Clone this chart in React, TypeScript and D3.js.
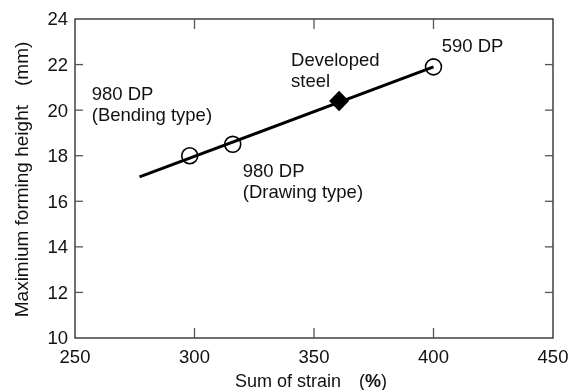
import { useEffect, useRef } from "react"
import * as d3 from "d3"

// measured points (sum of strain %, max forming height mm)
const steels = ["980 DP (Bending type)", "980 DP (Drawing type)", "Developed steel", "590 DP"]
const strainValues = [298, 316, 360.5, 400]
const heightValues = [18.0, 18.5, 20.4, 21.9]
const markerKinds = ["circle", "circle", "diamond", "circle"]

// regression line end points
const fitStrain = [277, 400]
const fitHeight = [17.07, 21.9]

const xTicks = [250, 300, 350, 400, 450]
const yTicks = [10, 12, 14, 16, 18, 20, 22, 24]

// label lines for each steel
const labelLines = [
  ["980 DP", "(Bending type)"],
  ["980 DP", "(Drawing type)"],
  ["Developed", "steel"],
  ["590 DP"],
]
// label anchor in data units (baseline of first line)
const labelStrain = [257, 320.2, 340.4, 403.4]
const labelHeight = [20.44, 17.05, 21.93, 22.54]

export default function App() {
  const svgRef = useRef<SVGSVGElement>(null)

  useEffect(() => {
    if (!svgRef.current) return
    const width = 572
    const height = 390
    const margin = { top: 19, right: 19, bottom: 52, left: 75 }

    d3.select(svgRef.current).selectAll("*").remove()
    const svg = d3
      .select(svgRef.current)
      .attr("width", width)
      .attr("height", height)
      .style("font-family", "Liberation Sans, Arial, sans-serif")

    const x = d3.scaleLinear().domain([250, 450]).range([margin.left, width - margin.right])
    const y = d3.scaleLinear().domain([10, 24]).range([height - margin.bottom, margin.top])

    const frameColor = "#222"
    const tickColor = "#555"

    // frame
    svg
      .append("rect")
      .attr("x", x(250))
      .attr("y", y(24))
      .attr("width", x(450) - x(250))
      .attr("height", y(10) - y(24))
      .attr("fill", "none")
      .attr("stroke", frameColor)
      .attr("stroke-width", 1.3)

    // inward ticks, all four sides
    const inner = xTicks.slice(1, -1)
    svg
      .append("g")
      .selectAll("line")
      .data(inner)
      .enter()
      .append("line")
      .attr("x1", (d) => x(d))
      .attr("x2", (d) => x(d))
      .attr("y1", y(10))
      .attr("y2", y(10) - 10)
      .attr("stroke", tickColor)
      .attr("stroke-width", 1.3)
    svg
      .append("g")
      .selectAll("line")
      .data(inner)
      .enter()
      .append("line")
      .attr("x1", (d) => x(d))
      .attr("x2", (d) => x(d))
      .attr("y1", y(24))
      .attr("y2", y(24) + 10)
      .attr("stroke", tickColor)
      .attr("stroke-width", 1.3)
    const innerY = yTicks.slice(1, -1)
    svg
      .append("g")
      .selectAll("line")
      .data(innerY)
      .enter()
      .append("line")
      .attr("x1", x(250))
      .attr("x2", x(250) + 8)
      .attr("y1", (d) => y(d))
      .attr("y2", (d) => y(d))
      .attr("stroke", tickColor)
      .attr("stroke-width", 1.3)
    svg
      .append("g")
      .selectAll("line")
      .data(innerY)
      .enter()
      .append("line")
      .attr("x1", x(450))
      .attr("x2", x(450) - 8)
      .attr("y1", (d) => y(d))
      .attr("y2", (d) => y(d))
      .attr("stroke", tickColor)
      .attr("stroke-width", 1.3)

    // tick labels
    svg
      .append("g")
      .selectAll("text")
      .data(xTicks)
      .enter()
      .append("text")
      .attr("x", (d) => x(d))
      .attr("y", y(10) + 25)
      .attr("text-anchor", "middle")
      .attr("font-size", 18.5)
      .attr("fill", "#111")
      .text((d) => d)
    svg
      .append("g")
      .selectAll("text")
      .data(yTicks)
      .enter()
      .append("text")
      .attr("x", x(250) - 7)
      .attr("y", (d) => y(d))
      .attr("dy", "0.35em")
      .attr("text-anchor", "end")
      .attr("font-size", 18.5)
      .attr("fill", "#111")
      .text((d) => d)

    // axis titles
    const xt = svg
      .append("text")
      .attr("x", 235)
      .attr("y", 387)
      .attr("font-size", 18)
      .attr("fill", "#111")
    xt.append("tspan").text("Sum of strain\u3000(")
    xt.append("tspan").attr("font-weight", "bold").text("%")
    xt.append("tspan").text(")")

    svg
      .append("text")
      .attr("transform", `translate(28,179.5) rotate(-90)`)
      .attr("text-anchor", "middle")
      .attr("font-size", 19)
      .attr("fill", "#111")
      .text("Maximium forming height\u3000(mm)")

    // fit line
    const line = d3
      .line<number>()
      .x((d) => x(fitStrain[d]))
      .y((d) => y(fitHeight[d]))
    svg
      .append("path")
      .attr("d", line([0, 1]))
      .attr("fill", "none")
      .attr("stroke", "#000")
      .attr("stroke-width", 3)

    // markers
    const idx = d3.range(steels.length)
    svg
      .append("g")
      .selectAll("path")
      .data(idx)
      .enter()
      .append("path")
      .attr("d", (i) =>
        markerKinds[i] === "circle"
          ? d3.symbol(d3.symbolCircle, 200)()
          : d3.symbol(d3.symbolDiamond, 120)(),
      )
      .attr("transform", (i) =>
        markerKinds[i] === "circle"
          ? `translate(${x(strainValues[i])},${y(heightValues[i])})`
          : `translate(${x(strainValues[i])},${y(heightValues[i])}) scale(1.7,1)`,
      )
      .attr("fill", (i) => (markerKinds[i] === "circle" ? "none" : "#000"))
      .attr("stroke", "#000")
      .attr("stroke-width", (i) => (markerKinds[i] === "circle" ? 1.6 : 0))

    // labels
    const labels = svg
      .append("g")
      .selectAll("text")
      .data(idx)
      .enter()
      .append("text")
      .attr("x", (i) => x(labelStrain[i]))
      .attr("y", (i) => y(labelHeight[i]))
      .attr("font-size", 18.5)
      .attr("fill", "#111")
    labels
      .selectAll("tspan")
      .data((i) => labelLines[i].map((t, k) => ({ t, k, i })))
      .enter()
      .append("tspan")
      .attr("x", (d) => x(labelStrain[d.i]))
      .attr("dy", (d) => (d.k === 0 ? 0 : 21))
      .text((d) => d.t)
  }, [])

  return <svg ref={svgRef} style={{ display: "block", position: "fixed", left: 0, top: 0 }} />
}
